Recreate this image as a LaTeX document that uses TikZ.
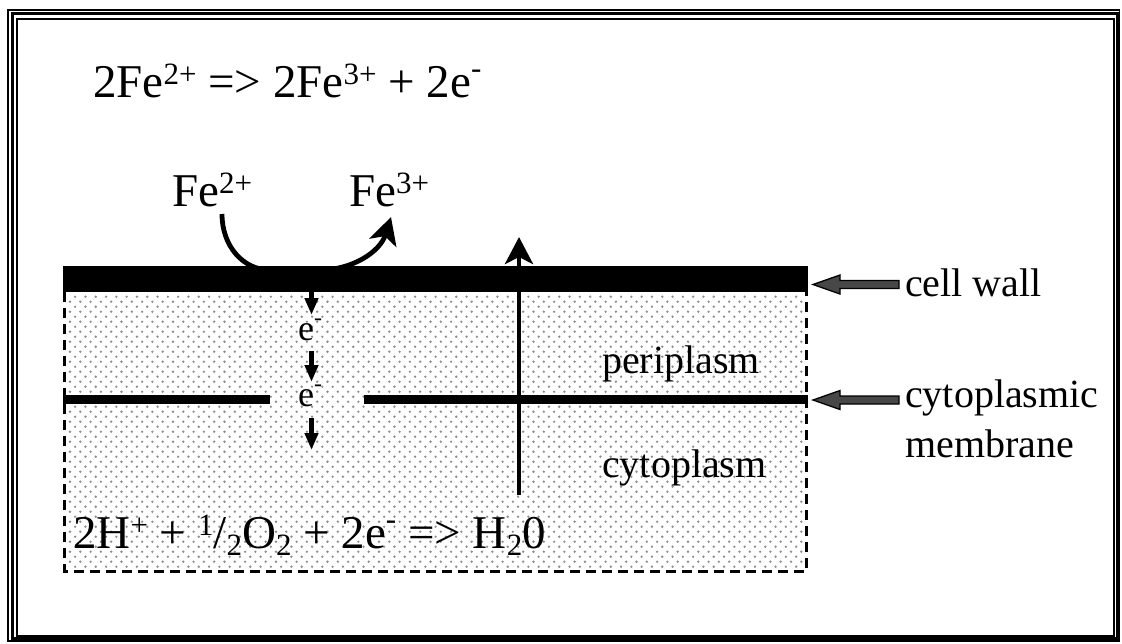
\documentclass[tikz,border=0pt]{standalone}
\usepackage{fontspec}
\setmainfont{Liberation Serif}
\usetikzlibrary{arrows.meta}
\newcommand{\spx}[3]{\raisebox{#2}{\fontsize{#1}{#1}\selectfont #3}}
\newcommand{\myup}[1]{\spx{31}{0.26em}{#1}}
\newcommand{\mydn}[1]{\spx{31}{-0.16em}{#1}}
\newcommand{\myneg}{\spx{31}{0.4em}{-}}
\begin{document}
\begin{tikzpicture}[x=1pt,y=-1pt,
  lbl/.style={inner sep=0pt,anchor=base west},
  bigtxt/.style={lbl,font=\fontsize{47}{47}\selectfont},
  midtxt/.style={lbl,font=\fontsize{40}{40}\selectfont},
  etxt/.style={lbl,font=\fontsize{36}{36}\selectfont},
  bigarrow/.style={line width=4.8pt,-{Stealth[length=27pt,width=28pt,inset=7pt]}},
  earrow/.style={line width=4.5pt,-{Triangle[length=17pt,width=13pt]}},
  pointer/.style={draw=black,line width=1.3pt,fill=black!72},
  frame/.style={draw=black}
]
\useasboundingbox (0,0) rectangle (1122,643);
% frame
\draw[frame,line width=1.5pt] (8.2,10) rectangle (1119.5,641);
\draw[frame,line width=3pt] (12.5,13.7) rectangle (1117,638.5);
\draw[frame,line width=1.5pt] (16.8,18.8) rectangle (1114,636);
% dotted cell interior
\begin{scope}
\clip (66,292) rectangle (805,569.5);
\foreach \j in {0,...,55} {
  \pgfmathsetmacro{\xo}{59.7+5.15*(1-mod(\j,2))}
  \pgfmathsetmacro{\yy}{296.7+5*\j}
  \fill[black!45] \foreach \i in {0,...,74} { ({\xo+10.3*\i},\yy) circle (1.3)};
}
\end{scope}
% curved arrow (under the wall)
\coordinate (fe2s) at (222,214);
\coordinate (bl) at (270,270);
\coordinate (br) at (320,270);
\coordinate (fe3e) at (391,217);
\draw[bigarrow] (fe2s) .. controls (222,246) and (243,270) .. (bl) -- (br) .. controls (352,270) and (380,252) .. (fe3e);
% cell wall
\fill[black] (63,265.5) rectangle (808,292);
% membrane
\fill[black] (63,395) rectangle (270,404);
\fill[black] (364,395) rectangle (808,404);
% dashed border
\draw[line width=3pt,dash pattern=on 10pt off 6pt] (64.5,292) -- (64.5,571) -- (806.5,571) -- (806.5,292);
% up arrow
\coordinate (upS) at (519,495);
\coordinate (upE) at (519,237);
\draw[bigarrow] (upS) -- (upE);
% electron arrows
\coordinate (e1s) at (311.5,292); \coordinate (e1e) at (311.5,315);
\coordinate (e2s) at (311.5,351); \coordinate (e2e) at (311.5,382);
\coordinate (e3s) at (311.5,418); \coordinate (e3e) at (311.5,450);
\draw[earrow] (e1s) -- (e1e);
\draw[earrow] (e2s) -- (e2e);
\draw[earrow] (e3s) -- (e3e);
% pointers
\draw[pointer] (813,284.5) -- (840,275) -- (840,280.5) -- (899,280.5) -- (899,288.5) -- (840,288.5) -- (840,294) -- cycle;
\draw[pointer] (813,400) -- (840,390.5) -- (840,396) -- (899,396) -- (899,404) -- (840,404) -- (840,409.5) -- cycle;
% texts
\node[bigtxt] (eqtop) at (93,97) {2Fe\myup{2+} => 2Fe\myup{3+} + 2e\myneg};
\node[bigtxt] (fe2) at (172,206) {Fe\myup{2+}};
\node[bigtxt] (fe3) at (349,206) {Fe\myup{3+}};
\node[etxt] (e1) at (298,340) {e\spx{24}{0.4em}{-}};
\node[etxt] (e2) at (298,406) {e\spx{24}{0.4em}{-}};
\node[midtxt] (cw) at (905,296) {cell wall};
\node[midtxt] (cm1) at (905,407) {cytoplasmic};
\node[midtxt] (cm2) at (905,457) {membrane};
\node[midtxt] (peri) at (602,373) {periplasm};
\node[midtxt] (cyto) at (602,477) {cytoplasm};
\node[bigtxt] (eqbot) at (73,548) {2H\myup{+} + \myup{1}/\mydn{2}O\mydn{2} + 2e\myneg{} => H\mydn{2}0};
\end{tikzpicture}
\end{document}
